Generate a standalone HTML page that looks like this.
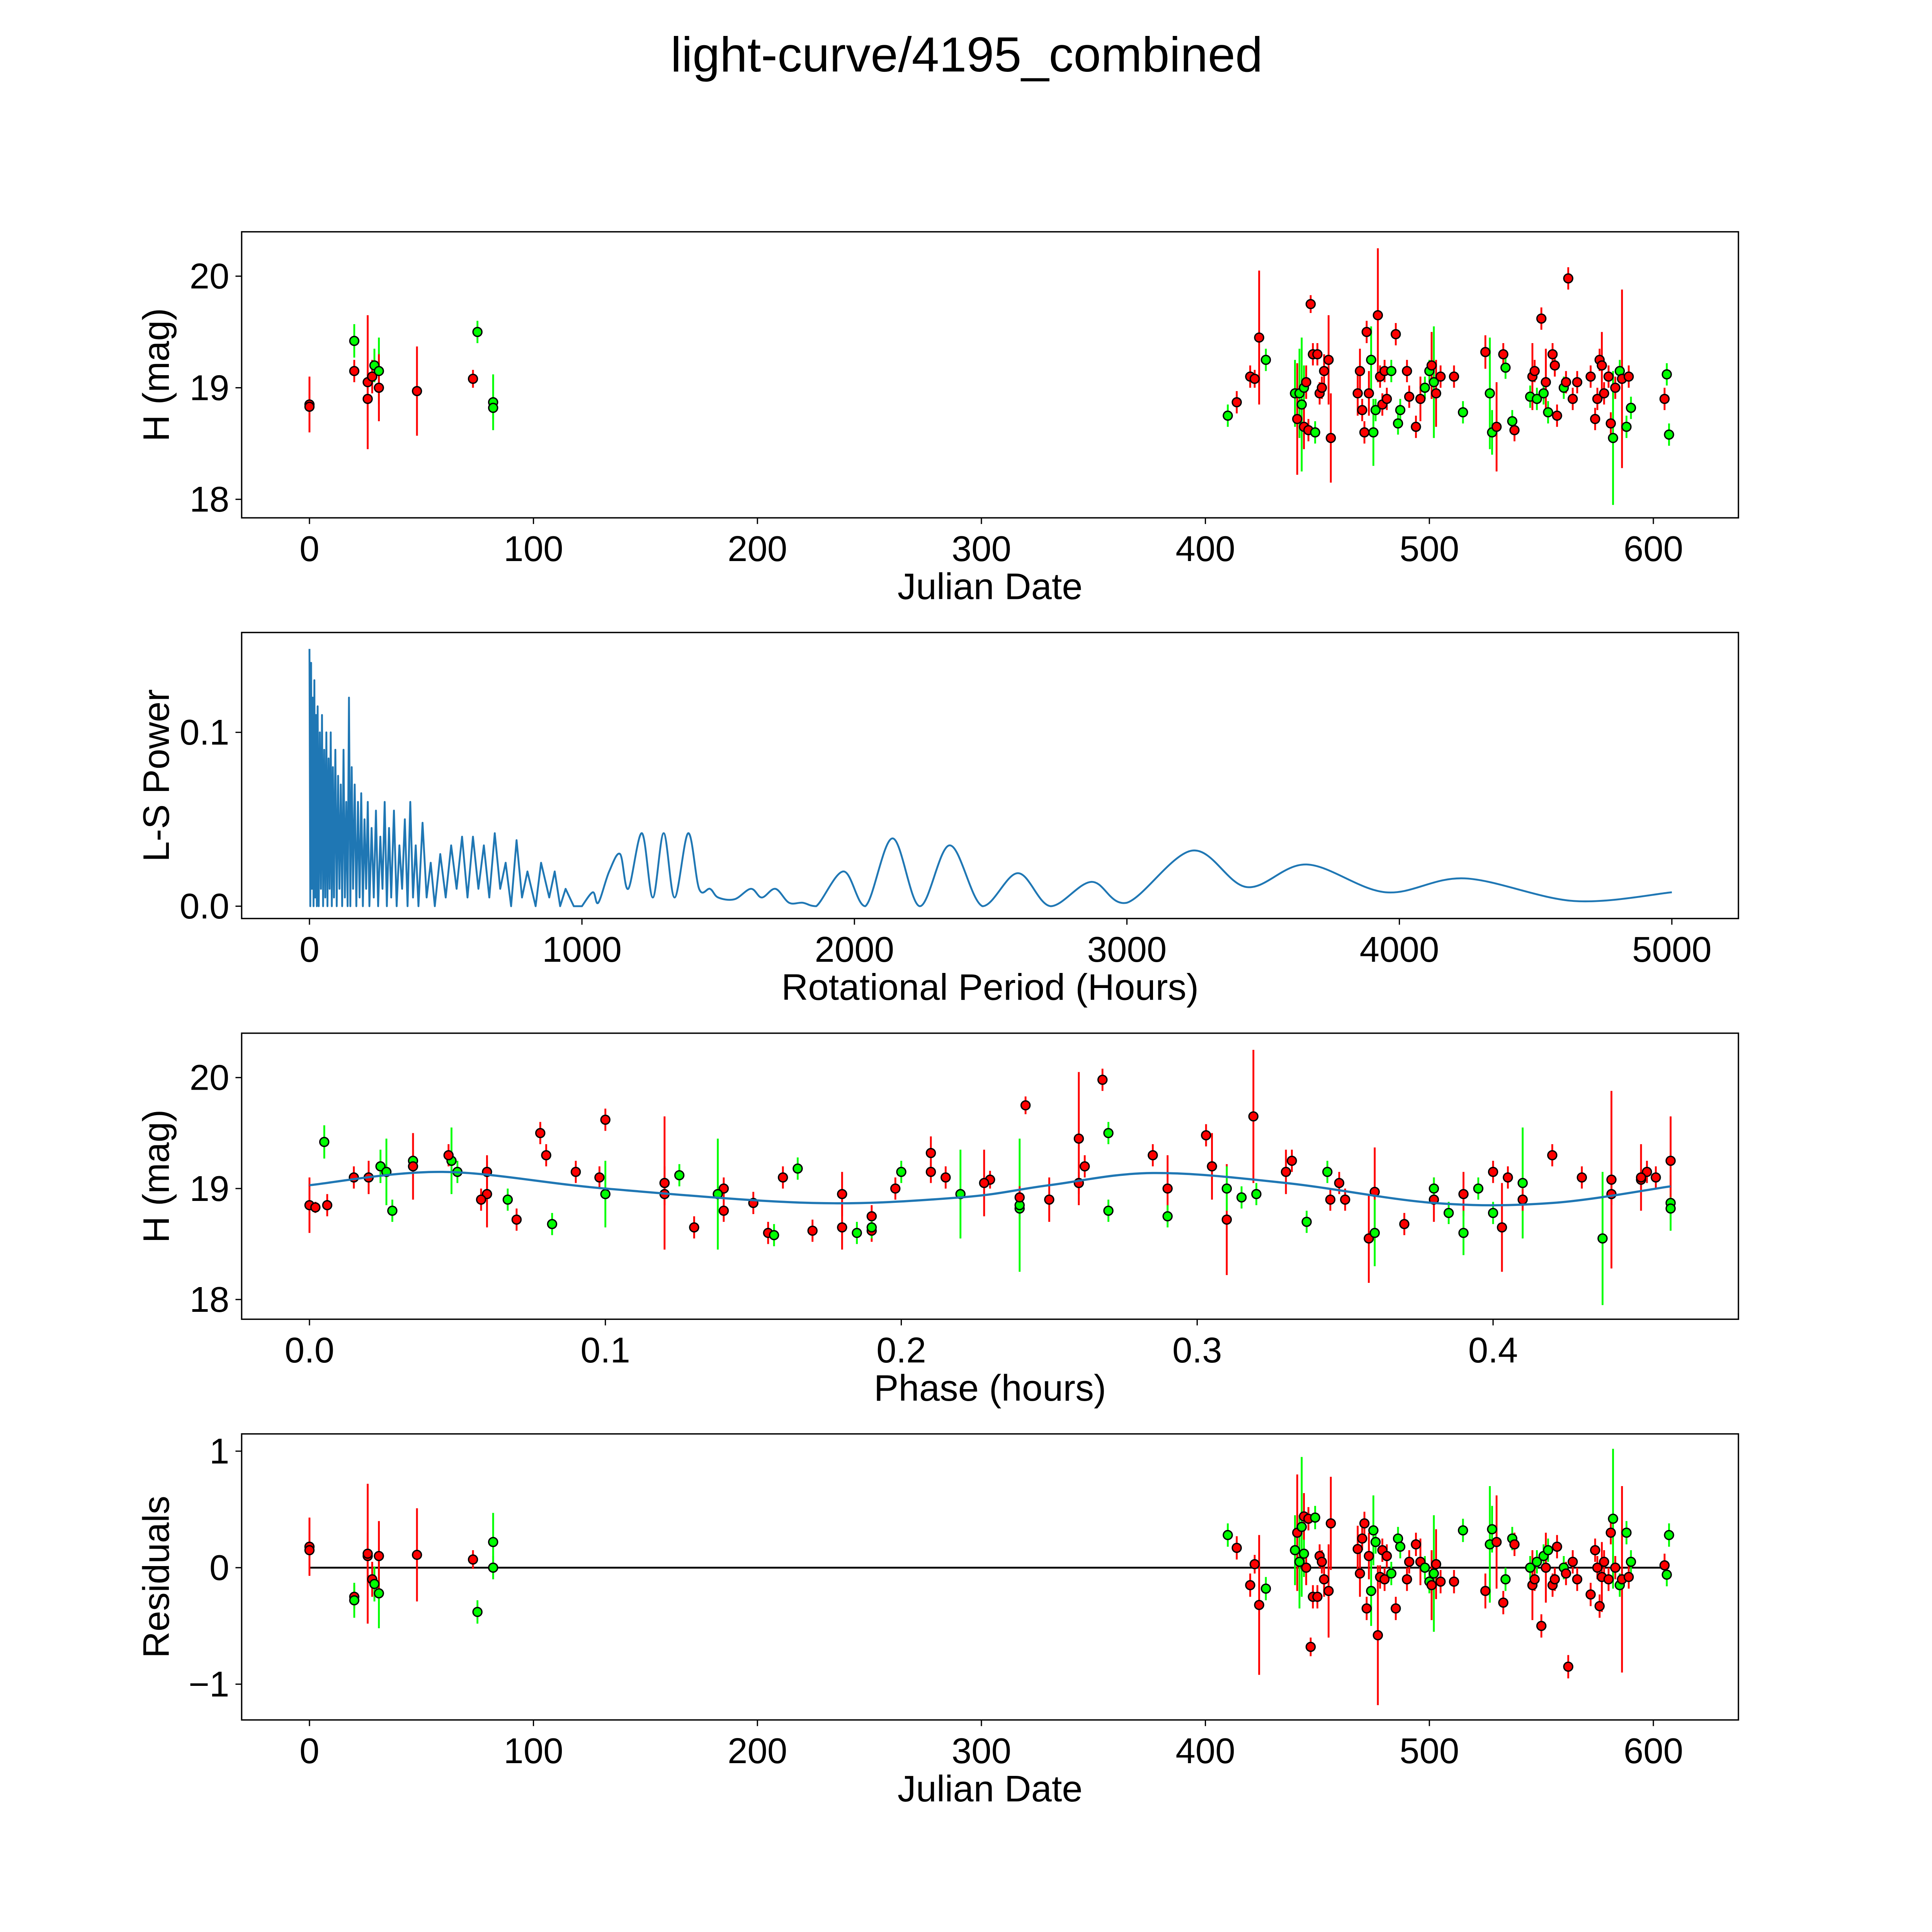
<!DOCTYPE html>
<html><head><meta charset="utf-8"><style>
html,body{margin:0;padding:0;background:#fff;overflow:hidden;width:100%;height:100%;}
svg{display:block;position:absolute;left:0;top:0;width:100vw;height:100vh;}
text{font-family:"Liberation Sans","DejaVu Sans",sans-serif;fill:#000;}
</style></head>
<body>
<svg id="fig" xmlns="http://www.w3.org/2000/svg" viewBox="0 0 1567 1567" preserveAspectRatio="none">
<rect x="0" y="0" width="1567" height="1567" fill="#fff"/>
<text x="784" y="58" font-size="40" text-anchor="middle">light-curve/4195_combined</text>
</svg>
<script>
// ---- observation data ----
const dates=[0,0,20,20,26,26,28,29,31,31,48,73,75,82,82,410,414,420,422,424,427,440,441,442,443,444,444,445,446,447,448,449,450,451,452,453,455,456,468,469,470,471,472,473,474,475,476,477,478,479,480,481,483,485,486,487,490,491,494,496,498,500,501,502,503,505,511,515,525,527,528,530,533,534,537,538,545,546,547,548,550,551,552,553,555,556,557,560,561,562,564,566,572,574,575,576,577,578,580,581,582,583,585,586,588,589,590,605,606,607];
const mags=[18.85,18.83,19.15,19.42,18.9,19.05,19.1,19.2,19.15,19.0,18.97,19.08,19.5,18.87,18.82,18.75,18.87,19.1,19.08,19.45,19.25,18.95,18.72,18.95,18.85,19.0,18.65,19.05,18.62,19.75,19.3,18.6,19.3,18.95,19.0,19.15,19.25,18.55,18.95,19.15,18.8,18.6,19.5,18.95,19.25,18.6,18.8,19.65,19.1,18.85,19.15,18.9,19.15,19.48,18.68,18.8,19.15,18.92,18.65,18.9,19.0,19.15,19.2,19.05,18.95,19.1,19.1,18.78,19.32,18.95,18.6,18.65,19.3,19.18,18.7,18.62,18.92,19.1,19.15,18.9,19.62,18.95,19.05,18.78,19.3,19.2,18.75,19.0,19.05,19.98,18.9,19.05,19.1,18.72,18.9,19.25,19.2,18.95,19.1,18.68,18.55,19.0,19.15,19.08,18.65,19.1,18.82,18.9,19.12,18.58];
const errs=[0.25,0.05,0.1,0.15,0.2,0.6,0.15,0.15,0.3,0.3,0.4,0.08,0.1,0.25,0.1,0.1,0.1,0.1,0.08,0.6,0.1,0.3,0.5,0.4,0.6,0.2,0.2,0.15,0.1,0.08,0.1,0.1,0.1,0.1,0.1,0.15,0.4,0.4,0.2,0.2,0.1,0.1,0.1,0.2,0.3,0.3,0.1,0.6,0.1,0.1,0.1,0.1,0.1,0.1,0.1,0.1,0.1,0.1,0.1,0.2,0.1,0.1,0.3,0.5,0.3,0.1,0.1,0.1,0.15,0.5,0.2,0.4,0.1,0.1,0.1,0.1,0.1,0.3,0.1,0.1,0.1,0.1,0.3,0.1,0.1,0.1,0.1,0.1,0.1,0.1,0.1,0.1,0.1,0.1,0.1,0.1,0.3,0.1,0.1,0.1,0.6,0.1,0.1,0.8,0.1,0.1,0.1,0.1,0.1,0.1];
const bands="rrrgrrrggrrrgggg rrrrgg rggg rrrrr grrrrrr rrrrr rggg rrrrr g rg grrr rgg rgr rr g r g g rrg g r g rr g r g r g rrr g rrrrr rr rrrrr g rg r g r g r g g rrr g r g rrr".replace(/ /g,"");
const phases=[0.000,0.002,0.21,0.005,0.38,0.12,0.02,0.024,0.026,0.29,0.36,0.45,0.27,0.46,0.24,0.29,0.15,0.16,0.23,0.26,0.035,0.10,0.31,0.22,0.24,0.31,0.18,0.12,0.19,0.242,0.08,0.185,0.42,0.44,0.14,0.06,0.46,0.358,0.39,0.33,0.14,0.155,0.078,0.18,0.048,0.36,0.028,0.319,0.215,0.006,0.452,0.345,0.344,0.303,0.082,0.27,0.4,0.24,0.13,0.25,0.395,0.05,0.305,0.41,0.06,0.405,0.015,0.385,0.21,0.138,0.39,0.403,0.285,0.165,0.337,0.17,0.315,0.45,0.09,0.067,0.10,0.32,0.228,0.4,0.047,0.262,0.19,0.38,0.348,0.268,0.35,0.26,0.43,0.07,0.41,0.332,0.035,0.12,0.098,0.37,0.437,0.198,0.2,0.44,0.19,0.455,0.46,0.058,0.125,0.157];
const resids=[0.18,0.15,-0.25,-0.28,0.1,0.12,-0.1,-0.14,-0.22,0.1,0.11,0.07,-0.38,0.22,0.0,0.28,0.17,-0.15,0.03,-0.32,-0.18,0.15,0.3,0.05,0.35,0.12,0.44,0.0,0.42,-0.68,-0.25,0.43,-0.25,0.1,0.05,-0.1,-0.2,0.38,0.16,-0.05,0.25,0.38,-0.35,0.1,-0.2,0.32,0.22,-0.58,-0.08,0.15,-0.1,0.1,-0.05,-0.35,0.25,0.18,-0.1,0.05,0.2,0.05,0.0,-0.12,-0.15,-0.05,0.03,-0.12,-0.12,0.32,-0.2,0.2,0.33,0.22,-0.3,-0.1,0.25,0.2,0.0,-0.15,-0.1,0.05,-0.5,0.1,0.0,0.15,-0.15,-0.1,0.18,0.0,-0.05,-0.85,0.05,-0.1,-0.23,0.15,0.0,-0.33,-0.08,0.05,-0.1,0.3,0.42,0.0,-0.15,-0.1,0.3,-0.08,0.05,0.02,-0.06,0.28];
// ---- periodogram data: dense (short periods) ----
const densePeriods=[0,3,6,9,12,15,18,21,24,27,30,34,38,42,46,50,54,58,62,66,70,74,78,82,86,90,95,100,105,110,115,120,125,130,135,140,145,150,155,160,166,172,178,184,190,196,202,208,214,220,228,236,244,252,260,268,276,284,292,300,310,320,330,340,350,360,370,380,390,400,415,430,445,460,480,500,520,540,560,580,600,620,640,660,680,700,720,740,760,780,800,830,850,880,900,920,940,970,1000];
const densePowers=[0.148,0.0,0.14,0.01,0.12,0.0,0.13,0.005,0.11,0.0,0.115,0.0,0.1,0.01,0.11,0.0,0.09,0.005,0.1,0.0,0.085,0.01,0.1,0.0,0.08,0.005,0.09,0.0,0.075,0.01,0.07,0.0,0.09,0.005,0.06,0.0,0.12,0.0,0.08,0.01,0.07,0.0,0.06,0.005,0.065,0.0,0.05,0.01,0.06,0.0,0.045,0.005,0.055,0.0,0.04,0.01,0.06,0.0,0.045,0.005,0.055,0.0,0.035,0.01,0.05,0.0,0.06,0.005,0.035,0.0,0.048,0.005,0.025,0.0,0.03,0.005,0.035,0.01,0.04,0.005,0.04,0.01,0.035,0.005,0.042,0.01,0.025,0.0,0.038,0.005,0.02,0.0,0.025,0.005,0.02,0.0,0.01,0.0,0.0];
// ---- periodogram data: smooth (long periods) ----
const smoothPeriods=[1040,1060,1100,1140,1170,1220,1260,1300,1340,1390,1430,1470,1500,1560,1620,1660,1710,1760,1810,1860,1960,2040,2140,2240,2350,2470,2600,2720,2870,3000,3240,3440,3660,3950,4240,4640,5000];
const smoothPowers=[0.008,0.002,0.02,0.03,0.01,0.042,0.005,0.042,0.005,0.042,0.01,0.01,0.005,0.004,0.01,0.005,0.01,0.002,0.002,0.0,0.02,0.0,0.039,0.0,0.035,0.0,0.019,0.0,0.014,0.002,0.032,0.011,0.024,0.008,0.016,0.003,0.008];
// ---- model curve ----
const modelPhase=[0,0.045,0.1,0.17,0.22,0.25,0.285,0.33,0.38,0.42,0.46];
const modelMag=[19.03,19.15,19.0,18.87,18.92,19.03,19.14,19.05,18.87,18.87,19.02];
// ---- ticks ----
const dateTicks=[0,100,200,300,400,500,600];
const magTicks=[18,19,20];
const periodTicks=[0,1000,2000,3000,4000,5000];
const powerTicks=[0.0,0.1];
const phaseTicks=[0.0,0.1,0.2,0.3,0.4];
const phaseTickLabels=["0.0","0.1","0.2","0.3","0.4"];
const residTicks=[-1,0,1];
const residTickLabels=["\u22121","0","1"];

const NS="http://www.w3.org/2000/svg";
const svg=document.getElementById('fig');
function mk(tag,attrs,parent){const e=document.createElementNS(NS,tag);for(const k in attrs)e.setAttribute(k,attrs[k]);(parent||svg).appendChild(e);return e;}
function lin(d0,d1,p0,p1){return v=>p0+(v-d0)*(p1-p0)/(d1-d0);}

function panel(name,box,sx,sy,xt,xl,yt,yl,xlabel,ylabel){
  const g=mk('g',{});
  
  
  xt.forEach((v,i)=>{const x=sx(v);
    const t=mk('line',{x1:x,x2:x,y1:box.b,y2:box.b+5,stroke:'#000','stroke-width':1},g);
    
    const l=mk('text',{x:x,y:box.b+35,'font-size':29,'text-anchor':'middle'},g);
    
    l.textContent=xl[i];});
  yt.forEach((v,i)=>{const y=sy(v);
    const t=mk('line',{x1:box.l-5,x2:box.l,y1:y,y2:y,stroke:'#000','stroke-width':1},g);
    
    const l=mk('text',{x:box.l-10,y:y+10,'font-size':29,'text-anchor':'end'},g);
    
    l.textContent=yl[i];});
  const xa=mk('text',{x:(box.l+box.r)/2,y:box.b+66,'font-size':30,'text-anchor':'middle'},g);
  
  xa.textContent=xlabel;
  const cy=(box.t+box.b)/2;
  const ya=mk('text',{x:137,y:cy,'font-size':30,'text-anchor':'middle',transform:`rotate(-90 137 ${cy})`},g);
  
  ya.textContent=ylabel;
  const plot=mk('g',{},g);
  
  return {g,plot,box};
}
function frame(p){const b=p.box;
  const r=mk('rect',{x:b.l,y:b.t,width:b.r-b.l,height:b.b-b.t,fill:'none',stroke:'#000','stroke-width':1.1},p.g);
  }
function points(p,xs,ys,sx,sy){
  const n=Math.min(xs.length,ys.length,errs.length,bands.length);
  for(let i=0;i<n;i++){const col=bands[i]==='g'?'#00ff00':'#ff0000';
    const x=sx(xs[i]);
    const e=mk('line',{x1:x,x2:x,y1:sy(ys[i]-errs[i]),y2:sy(ys[i]+errs[i]),stroke:col,'stroke-width':1.5},p.plot);
    
  }
  for(let i=0;i<n;i++){const col=bands[i]==='g'?'#00ff00':'#ff0000';
    const c=mk('circle',{cx:sx(xs[i]),cy:sy(ys[i]),r:3.6,fill:col,stroke:'#000','stroke-width':1.1},p.plot);
    
  }
}

// Panel 1
{const box={l:196,r:1410,t:188,b:420};
 const sx=lin(0,600,251,1341), sy=lin(18,20,405,224);
 const p=panel('light-curve-panel',box,sx,sy,dateTicks,dateTicks.map(String),magTicks,magTicks.map(String),'Julian Date','H (mag)');
 points(p,dates,mags,sx,sy);frame(p);}
// Panel 2
{const box={l:196,r:1410,t:513,b:745};
 const sx=lin(0,5000,251,1356), sy=lin(0,0.1,735,594);
 const p=panel('periodogram-panel',box,sx,sy,periodTicks,periodTicks.map(String),powerTicks,powerTicks.map(v=>v.toFixed(1)),'Rotational Period (Hours)','L-S Power');
 const nd=Math.min(densePeriods.length,densePowers.length);
 const dp=[];for(let i=0;i<nd;i++)dp.push([sx(densePeriods[i]),sy(densePowers[i])]);
 const ns=Math.min(smoothPeriods.length,smoothPowers.length);
 const spts=[dp[dp.length-1]];for(let i=0;i<ns;i++)spts.push([sx(smoothPeriods[i]),sy(smoothPowers[i])]);
 let d=`M${dp[0][0]},${dp[0][1]}`;
 for(let i=1;i<dp.length;i++)d+=` L${dp[i][0]},${dp[i][1]}`;
 for(let i=1;i<spts.length;i++){
   const p0=spts[i-2]||spts[i-1],p1=spts[i-1],p2=spts[i],p3=spts[i+1]||spts[i];
   const c1x=p1[0]+(p2[0]-p0[0])/6,c1y=Math.min(p1[1]+(p2[1]-p0[1])/6,sy(0));
   const c2x=p2[0]-(p3[0]-p1[0])/6,c2y=Math.min(p2[1]-(p3[1]-p1[1])/6,sy(0));
   d+=` C${c1x},${c1y} ${c2x},${c2y} ${p2[0]},${p2[1]}`;}
 const path=mk('path',{d:d,fill:'none',stroke:'#1f77b4','stroke-width':1.5,'stroke-linejoin':'round'},p.plot);
 
 frame(p);}
// Panel 3
{const box={l:196,r:1410,t:838,b:1070};
 const sx=lin(0,0.4,251,1211), sy=lin(18,20,1054,874);
 const p=panel('phase-folded-panel',box,sx,sy,phaseTicks,phaseTickLabels,magTicks,magTicks.map(String),'Phase (hours)','H (mag)');
 points(p,phases,mags,sx,sy);
 const pts=modelPhase.map((v,i)=>[sx(v),sy(modelMag[i])]);
 let d=`M${pts[0][0]},${pts[0][1]}`;
 for(let i=1;i<pts.length;i++){const p0=pts[i-2]||pts[i-1],p1=pts[i-1],p2=pts[i],p3=pts[i+1]||pts[i];
   d+=` C${p1[0]+(p2[0]-p0[0])/6},${p1[1]+(p2[1]-p0[1])/6} ${p2[0]-(p3[0]-p1[0])/6},${p2[1]-(p3[1]-p1[1])/6} ${p2[0]},${p2[1]}`;}
 const m=mk('path',{d:d,fill:'none',stroke:'#1f77b4','stroke-width':1.8},p.plot);
 
 frame(p);}
// Panel 4
{const box={l:196,r:1410,t:1163,b:1395};
 const sx=lin(0,600,251,1341), sy=lin(-1,1,1366,1177);
 const p=panel('residuals-panel',box,sx,sy,dateTicks,dateTicks.map(String),residTicks,residTickLabels,'Julian Date','Residuals');
 const z=mk('line',{x1:sx(0),x2:sx(607),y1:sy(0),y2:sy(0),stroke:'#000','stroke-width':1.5},p.plot);
 
 points(p,dates,resids,sx,sy);frame(p);}
</script>
</body></html>
